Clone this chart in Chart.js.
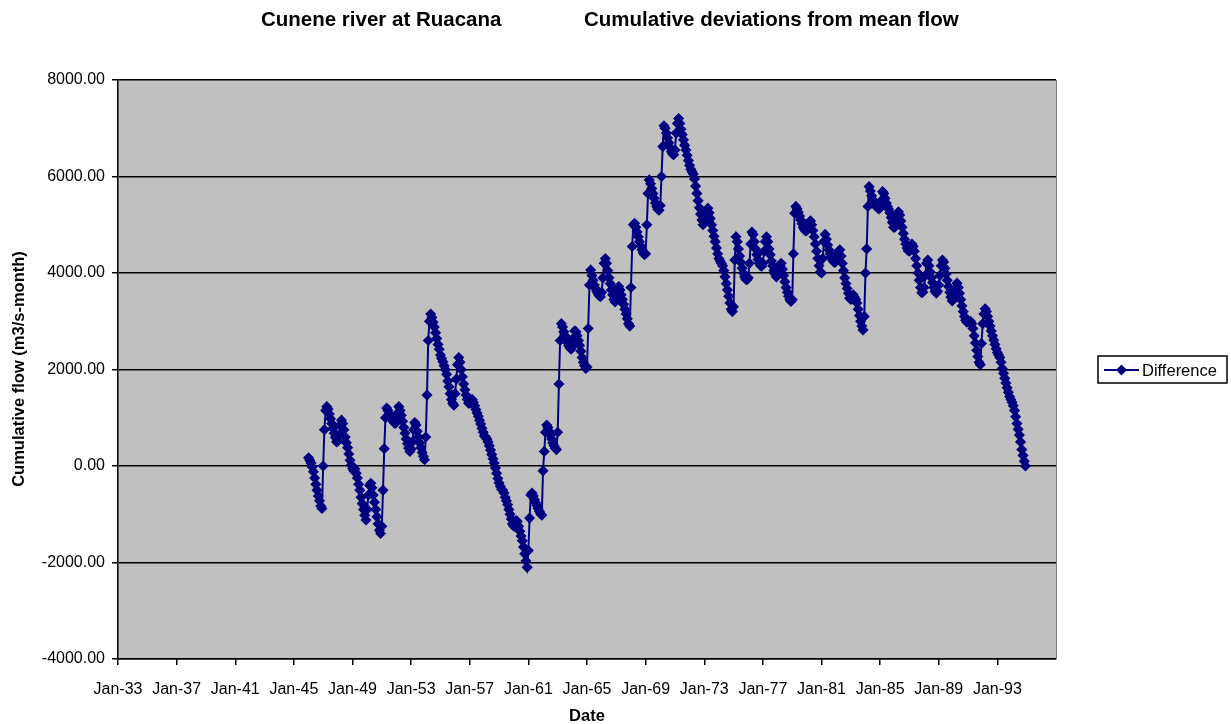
<!DOCTYPE html>
<html>
<head>
<meta charset="utf-8">
<title>Cunene river at Ruacana</title>
<script src="https://cdn.jsdelivr.net/npm/chart.js@4.4.1/dist/chart.umd.min.js"></script>
<style>
  body { margin: 0; background: #fff; }
  #wrap { width: 1231px; height: 724px; }
</style>
</head>
<body>
<div id="wrap"><canvas id="chart" width="1231" height="724"></canvas></div>
<script>
// monthly cumulative deviation (m3/s-month), Jan..Dec for each year, starting Jan 1946
const firstYear = 1946;

const diff1946to1955 = [
  170, 120, 60, -20, -120, -250, -380, -500, -620, -720, -830, -880,
  0, 750, 1150, 1230, 1180, 1080, 980, 880, 780, 680, 590, 500,
  520, 650, 850, 950, 880, 750, 600, 480, 380, 250, 120, 20,
  -50, -100, -60, -150, -250, -380, -500, -650, -780, -900, -1020, -1120,
  -900, -600, -400, -360, -450, -600, -750, -900, -1050, -1200, -1330, -1400,
  -1250, -500, 360, 1000, 1200, 1150, 1080, 1030, 980, 940, 900, 880,
  950, 1100, 1230, 1150, 1050, 930, 800, 680, 560, 460, 370, 300,
  350, 500, 750, 900, 850, 720, 600, 480, 380, 280, 200, 130,
  600, 1470, 2600, 3000, 3150, 3080, 2980, 2880, 2760, 2640, 2520, 2420,
  2300, 2230, 2160, 2080, 2000, 1900, 1760, 1640, 1500, 1380, 1300, 1260
];

const diff1956to1965 = [
  1500, 1800, 2100, 2250, 2150, 2000, 1850, 1700, 1580, 1470, 1380, 1300,
  1300, 1330, 1380, 1320, 1250, 1170, 1100, 1030, 950, 870, 780, 700,
  620, 600, 560, 500, 420, 330, 240, 150, 60, -40, -150, -260,
  -350, -420, -480, -500, -560, -650, -720, -800, -900, -1000, -1100, -1200,
  -1250, -1200, -1130, -1150, -1250, -1350, -1450, -1550, -1680, -1820, -1970, -2100,
  -1750, -1080, -600, -560, -620, -700, -760, -820, -880, -940, -990, -1020,
  -100, 300, 700, 850, 800, 720, 640, 560, 480, 420, 370, 340,
  700, 1700, 2600, 2950, 2880, 2780, 2700, 2620, 2560, 2500, 2450, 2420,
  2500, 2650, 2800, 2780, 2700, 2600, 2500, 2380, 2250, 2150, 2080, 2020,
  2050, 2850, 3750, 4060, 3950, 3850, 3750, 3680, 3620, 3570, 3530, 3510
];

const diff1966to1975 = [
  3600, 3900, 4200, 4300, 4200, 4050, 3900, 3780, 3650, 3550, 3450, 3400,
  3500, 3650, 3720, 3650, 3550, 3450, 3350, 3250, 3150, 3050, 2950, 2900,
  3700, 4550, 5000, 5030, 4950, 4850, 4750, 4650, 4560, 4480, 4420, 4380,
  4400, 5000, 5650, 5930, 5850, 5750, 5650, 5550, 5450, 5380, 5320, 5300,
  5400, 6000, 6620, 7050, 7000, 6900, 6800, 6700, 6600, 6520, 6470, 6450,
  6550, 6900, 7100, 7200, 7100, 6980, 6870, 6760, 6650, 6550, 6440, 6330,
  6230, 6150, 6100, 6050, 5950, 5800, 5650, 5500, 5350, 5220, 5100, 5000,
  5050, 5200, 5300, 5340, 5250, 5130, 5000, 4880, 4760, 4650, 4520, 4400,
  4300, 4250, 4200, 4150, 4050, 3920, 3780, 3650, 3520, 3380, 3250, 3200,
  3300, 4270, 4750, 4650, 4500, 4350, 4220, 4100, 4000, 3920, 3870, 3860
];

const diff1976to1985 = [
  3900, 4200, 4600, 4850, 4800, 4650, 4500, 4380, 4280, 4200, 4150, 4140,
  4200, 4450, 4650, 4750, 4650, 4500, 4380, 4250, 4150, 4050, 3980, 3920,
  3950, 4050, 4150, 4200, 4080, 3950, 3820, 3700, 3600, 3520, 3450, 3410,
  3450, 4400, 5240, 5380, 5330, 5260, 5180, 5100, 5020, 4950, 4900, 4870,
  4880, 4950, 5050, 5080, 5000, 4880, 4750, 4600, 4450, 4300, 4150, 4020,
  4000, 4300, 4650, 4800, 4700, 4580, 4480, 4400, 4330, 4270, 4230, 4220,
  4250, 4350, 4450, 4480, 4350, 4200, 4050, 3900, 3780, 3680, 3580, 3480,
  3450, 3500, 3550, 3500, 3450, 3380, 3250, 3120, 3000, 2900, 2820, 3100,
  4000, 4500, 5380, 5790, 5700, 5600, 5520, 5450, 5400, 5380, 5350, 5330,
  5350, 5500, 5690, 5650, 5550, 5450, 5380, 5320, 5250, 5150, 5050, 4950
];

const diff1986to1994 = [
  4950, 5050, 5200, 5270, 5200, 5080, 4950, 4820, 4700, 4600, 4520, 4460,
  4450, 4500, 4600, 4550, 4450, 4300, 4150, 4000, 3850, 3700, 3590, 3600,
  3700, 3950, 4200, 4270, 4150, 4020, 3900, 3800, 3700, 3620, 3580, 3620,
  3750, 3950, 4150, 4270, 4230, 4100, 3980, 3850, 3720, 3600, 3500, 3420,
  3450, 3550, 3700, 3790, 3700, 3580, 3450, 3320, 3200, 3100, 3020, 2980,
  3000, 2980, 3000, 2950, 2850, 2700, 2550, 2400, 2270, 2150, 2100, 2540,
  2950, 3150, 3260, 3200, 3100, 3000, 2900, 2800, 2700, 2610, 2520, 2430,
  2350, 2300, 2250, 2150, 2020, 1920, 1820, 1720, 1620, 1530, 1440, 1380,
  1320, 1250, 1150, 1020, 880, 760, 640, 500, 340, 220, 100, 0
];

const tickYears = [1933, 1937, 1941, 1945, 1949, 1953, 1957, 1961, 1965, 1969, 1973, 1977, 1981, 1985, 1989, 1993];
const flowTicks = [-4000, -2000, 0, 2000, 4000, 6000, 8000];

const difference = [].concat(diff1946to1955, diff1956to1965, diff1966to1975, diff1976to1985, diff1986to1994);
const points = difference.map((v, i) => ({ x: firstYear + i / 12, y: v }));

const FONT = '"Liberation Sans", Arial, sans-serif';
const NAVY = '#000080';

const decorations = {
  id: 'decorations',
  beforeDraw(chart) {
    const { ctx, chartArea: a } = chart;
    ctx.save();
    ctx.fillStyle = '#c0c0c0';
    ctx.fillRect(a.left, a.top, a.right - a.left, a.bottom - a.top);
    ctx.restore();
  },
  afterDraw(chart) {
    const { ctx, chartArea: a } = chart;
    ctx.save();
    // right edge of plot area
    ctx.strokeStyle = '#808080';
    ctx.lineWidth = 1;
    ctx.beginPath();
    ctx.moveTo(a.right + 0.5, a.top);
    ctx.lineTo(a.right + 0.5, a.bottom);
    ctx.stroke();

    ctx.fillStyle = '#000';
    ctx.textBaseline = 'middle';
    ctx.font = 'bold 20.5px ' + FONT;
    ctx.textAlign = 'left';
    ctx.fillText('Cunene river at Ruacana', 261, 20);
    ctx.fillText('Cumulative deviations from mean flow', 584, 20);

    ctx.font = 'bold 16.5px ' + FONT;
    ctx.textAlign = 'center';
    ctx.fillText('Date', 587, 716);
    ctx.save();
    ctx.translate(19, 369);
    ctx.rotate(-Math.PI / 2);
    ctx.fillText('Cumulative flow (m3/s-month)', 0, 0);
    ctx.restore();

    // legend
    ctx.fillStyle = '#fff';
    ctx.fillRect(1098, 356, 129, 27);
    ctx.strokeStyle = '#000';
    ctx.lineWidth = 1.5;
    ctx.strokeRect(1098, 356, 129, 27);
    ctx.strokeStyle = NAVY;
    ctx.lineWidth = 2;
    ctx.beginPath();
    ctx.moveTo(1104, 370);
    ctx.lineTo(1139, 370);
    ctx.stroke();
    ctx.fillStyle = NAVY;
    ctx.beginPath();
    ctx.moveTo(1121.5, 364.5);
    ctx.lineTo(1127, 370);
    ctx.lineTo(1121.5, 375.5);
    ctx.lineTo(1116, 370);
    ctx.closePath();
    ctx.fill();
    ctx.fillStyle = '#000';
    ctx.font = '16.5px ' + FONT;
    ctx.textAlign = 'left';
    ctx.fillText('Difference', 1142, 371);
    ctx.restore();
  }
};

new Chart(document.getElementById('chart'), {
  type: 'scatter',
  data: {
    datasets: [{
      label: 'Difference',
      data: points,
      showLine: true,
      borderColor: NAVY,
      backgroundColor: NAVY,
      borderWidth: 2,
      pointStyle: 'rectRot',
      pointRadius: 4.5,
      pointBorderWidth: 1.5,
      pointBorderColor: NAVY,
      pointBackgroundColor: NAVY
    }]
  },
  options: {
    responsive: false,
    animation: false,
    layout: { padding: { left: 0, right: 175, top: 80, bottom: 0 } },
    plugins: {
      legend: { display: false },
      title: { display: false },
      tooltip: { enabled: false }
    },
    scales: {
      x: {
        type: 'linear',
        min: 1933,
        max: 1997,
        afterBuildTicks: s => { s.ticks = tickYears.map(v => ({ value: v })); },
        afterFit: s => { s.height = 65; },
        ticks: {
          autoSkip: false,
          maxRotation: 0,
          padding: 15,
          color: '#000',
          font: { family: FONT, size: 16 },
          callback: v => 'Jan-' + String(Math.round(v)).slice(2)
        },
        grid: { drawOnChartArea: false, tickLength: 6, color: '#000', lineWidth: 1.5 },
        border: { color: '#000', width: 1.5 }
      },
      y: {
        min: -4000,
        max: 8000,
        afterBuildTicks: s => { s.ticks = flowTicks.map(v => ({ value: v })); },
        afterFit: s => { s.width = 118; },
        ticks: {
          padding: 7,
          color: '#000',
          font: { family: FONT, size: 16 },
          callback: v => Number(v).toFixed(2)
        },
        grid: { color: '#000', lineWidth: 1.5, tickLength: 6 },
        border: { color: '#000', width: 1.5 }
      }
    }
  },
  plugins: [decorations]
});
</script>
</body>
</html>
